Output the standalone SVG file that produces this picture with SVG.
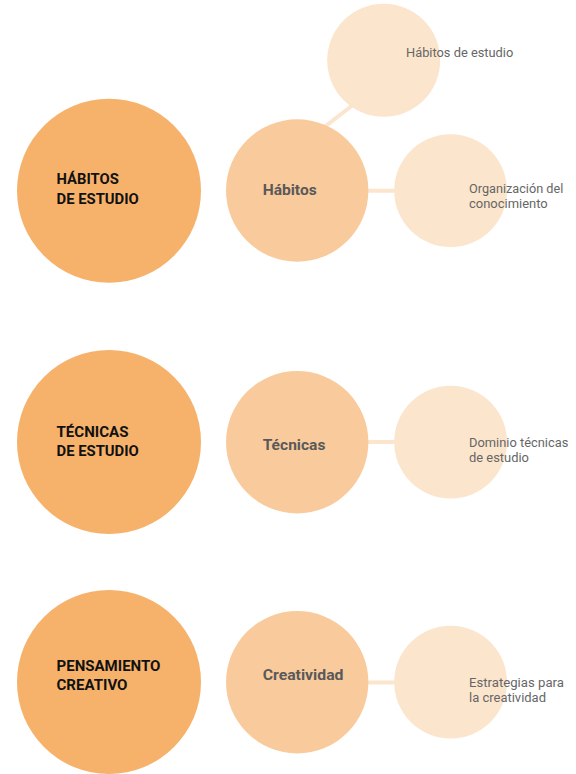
<svg xmlns="http://www.w3.org/2000/svg" width="576" height="774" viewBox="0 0 576 774">
<style>
.c1{fill:#F6B26B}
.c2{fill:#F9CB9C}
.c3{fill:#FCE5CD}
.ln{stroke:#FCE5CD;stroke-width:4;fill:none}
.t1{font-family:Roboto,"Liberation Sans",sans-serif;font-weight:bold;font-size:14px;fill:#111111}
.t2{font-family:Roboto,"Liberation Sans",sans-serif;font-weight:bold;font-size:15px;fill:#595959}
.t3{font-family:Roboto,"Liberation Sans",sans-serif;font-size:12.3px;fill:#666666}
</style>
<rect width="576" height="774" fill="#FFFFFF"/>
<g id="connectors">
<line class="ln" x1="318" y1="132" x2="358" y2="101"/>
<line class="ln" x1="360" y1="190.7" x2="400" y2="190.7"/>
<line class="ln" x1="360" y1="442" x2="400" y2="442"/>
<line class="ln" x1="360" y1="682.5" x2="400" y2="682.5"/>
</g>
<g id="habitos-de-estudio">
<circle class="c1" cx="109" cy="190.7" r="92"/>
<text class="t1" x="56.5" y="184.3" textLength="62.3" lengthAdjust="spacingAndGlyphs">HÁBITOS</text>
<text class="t1" x="56.5" y="204.3" textLength="82.3" lengthAdjust="spacingAndGlyphs">DE ESTUDIO</text>
</g>
<g id="habitos">
<circle class="c2" cx="297.2" cy="190.5" r="71.2"/>
<text class="t2" x="262.7" y="195" textLength="54" lengthAdjust="spacingAndGlyphs">Hábitos</text>
</g>
<g id="habitos-estudio">
<circle class="c3" cx="383.7" cy="60.3" r="56.5"/>
<text class="t3" x="406" y="56.7" textLength="107.3" lengthAdjust="spacingAndGlyphs">Hábitos de estudio</text>
</g>
<g id="organizacion">
<circle class="c3" cx="450.6" cy="190.7" r="56.4"/>
<text class="t3" x="469" y="193.3" textLength="94.3" lengthAdjust="spacingAndGlyphs">Organización del</text>
<text class="t3" x="469" y="208.3" textLength="78.7" lengthAdjust="spacingAndGlyphs">conocimiento</text>
</g>
<g id="tecnicas-de-estudio">
<circle class="c1" cx="109" cy="442" r="92"/>
<text class="t1" x="56.5" y="436.7" textLength="72" lengthAdjust="spacingAndGlyphs">TÉCNICAS</text>
<text class="t1" x="56.5" y="455.7" textLength="82.3" lengthAdjust="spacingAndGlyphs">DE ESTUDIO</text>
</g>
<g id="tecnicas">
<circle class="c2" cx="297.2" cy="442.2" r="71.2"/>
<text class="t2" x="262.7" y="450" textLength="62.7" lengthAdjust="spacingAndGlyphs">Técnicas</text>
</g>
<g id="dominio">
<circle class="c3" cx="450.6" cy="442.2" r="56.4"/>
<text class="t3" x="469" y="446.7" textLength="99.3" lengthAdjust="spacingAndGlyphs">Dominio técnicas</text>
<text class="t3" x="469" y="461.7" textLength="60" lengthAdjust="spacingAndGlyphs">de estudio</text>
</g>
<g id="pensamiento-creativo">
<circle class="c1" cx="109" cy="682" r="92"/>
<text class="t1" x="56.5" y="670.7" textLength="104" lengthAdjust="spacingAndGlyphs">PENSAMIENTO</text>
<text class="t1" x="56.5" y="689.7" textLength="71" lengthAdjust="spacingAndGlyphs">CREATIVO</text>
</g>
<g id="creatividad">
<circle class="c2" cx="297.2" cy="682.2" r="71.2"/>
<text class="t2" x="262.7" y="680" textLength="80.8" lengthAdjust="spacingAndGlyphs">Creatividad</text>
</g>
<g id="estrategias">
<circle class="c3" cx="450.6" cy="682.2" r="56.4"/>
<text class="t3" x="469" y="686.7" textLength="94.9" lengthAdjust="spacingAndGlyphs">Estrategias para</text>
<text class="t3" x="469" y="701.7" textLength="77" lengthAdjust="spacingAndGlyphs">la creatividad</text>
</g>
</svg>
